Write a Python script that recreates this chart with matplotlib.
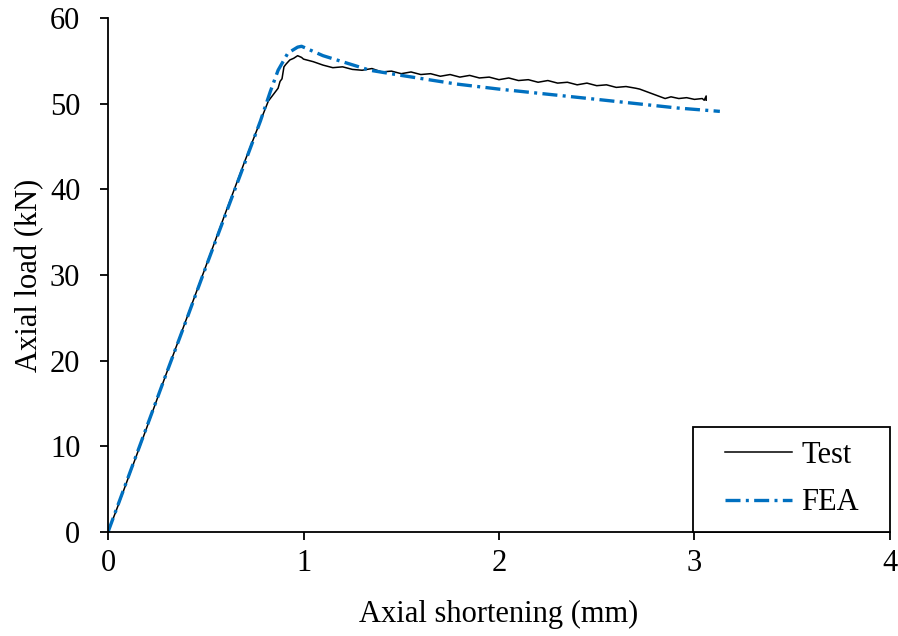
import numpy as np
import matplotlib
matplotlib.use("Agg")
import matplotlib.pyplot as plt
from matplotlib.patches import Rectangle

plt.rcParams['font.family'] = ['Liberation Serif', 'DejaVu Serif']

# Test curve
test_x = [0.00, 0.05, 0.10, 0.20, 0.30, 0.40, 0.50, 0.60, 0.70, 0.78, 0.82, 0.85,
          0.87, 0.88, 0.89, 0.90, 0.91, 0.93, 0.95, 0.97, 0.99, 1.00, 1.05,
          1.10, 1.15, 1.20, 1.25, 1.30, 1.35, 1.40, 1.45, 1.50, 1.55, 1.60, 1.65,
          1.70, 1.75, 1.80, 1.85, 1.90, 1.95, 2.00, 2.05, 2.10, 2.15, 2.20, 2.25,
          2.30, 2.35, 2.40, 2.45, 2.50, 2.55, 2.60, 2.65, 2.70, 2.72, 2.85, 2.88,
          2.92, 2.96, 3.00, 3.04, 3.05, 3.06, 3.06]
test_y = [0.0, 3.0, 6.1, 12.3, 18.6, 24.8, 31.0, 37.2, 43.3, 48.0, 50.3, 51.2,
          51.8, 52.6, 52.9, 54.3, 54.6, 55.1, 55.3, 55.6, 55.4, 55.2, 54.9,
          54.5, 54.2, 54.3, 54.0, 53.9, 54.1, 53.7, 53.8, 53.5, 53.7, 53.4, 53.5,
          53.2, 53.4, 53.1, 53.3, 53.0, 53.1, 52.8, 53.0, 52.7, 52.8, 52.5, 52.7,
          52.4, 52.5, 52.2, 52.4, 52.1, 52.2, 51.9, 52.0, 51.8, 51.7, 50.6, 50.8,
          50.6, 50.7, 50.5, 50.6, 50.4, 50.9, 50.4]

# FEA curve
fea_x = [0.00, 0.10, 0.20, 0.30, 0.40, 0.50, 0.60, 0.70, 0.78, 0.83, 0.87, 0.92,
         0.97, 0.99, 1.10, 1.34, 1.50, 1.78, 2.00, 2.46, 2.91, 3.13]
fea_y = [0.0, 6.2, 12.4, 18.6, 24.7, 30.9, 37.0, 43.1, 48.0, 51.4, 53.9, 55.9,
         56.6, 56.7, 55.6, 53.9, 53.3, 52.3, 51.7, 50.6, 49.5, 49.1]

fig = plt.figure(figsize=(8.98, 6.36), dpi=100)
ax = fig.add_axes([0.1203, 0.1635, 0.8707, 0.8082])

ax.plot(test_x, test_y, color='black', lw=1.1, label='Test')
ax.plot(fea_x, fea_y, color='#0070C0', lw=2.4, dashes=(4.5, 1.6, 0.9, 1.6), label='FEA')

ax.set_xlim(0, 4)
ax.set_ylim(0, 60)
ax.set_xticks([0, 1, 2, 3, 4])
ax.set_yticks(np.arange(0, 61, 10))
ax.spines['top'].set_visible(False)
ax.spines['right'].set_visible(False)
ax.spines['left'].set_linewidth(1.3)
ax.spines['bottom'].set_linewidth(1.3)
ax.tick_params(axis='both', direction='out', length=6, width=1.3, labelsize=22)
ax.tick_params(axis='y', pad=14)
ax.tick_params(axis='x', pad=6)

ax.set_xlabel('Axial shortening (mm)', fontsize=22, labelpad=16)
ax.set_ylabel('Axial load (kN)', fontsize=22, labelpad=4)

# legend box like the Excel one: wide frame, entries inside
ax.add_patch(Rectangle((0.748, 0.0), 0.252, 0.204, transform=ax.transAxes,
                       facecolor='white', edgecolor='black', lw=1.3, zorder=4,
                       clip_on=False))
leg = ax.legend(loc='center left', bbox_to_anchor=(0.789, 0.103), fontsize=22,
                frameon=False, borderaxespad=0, borderpad=0, handlelength=2.2,
                handletextpad=0.3, labelspacing=0.6)
leg.set_zorder(5)

fig.savefig('out.png', dpi=100)
